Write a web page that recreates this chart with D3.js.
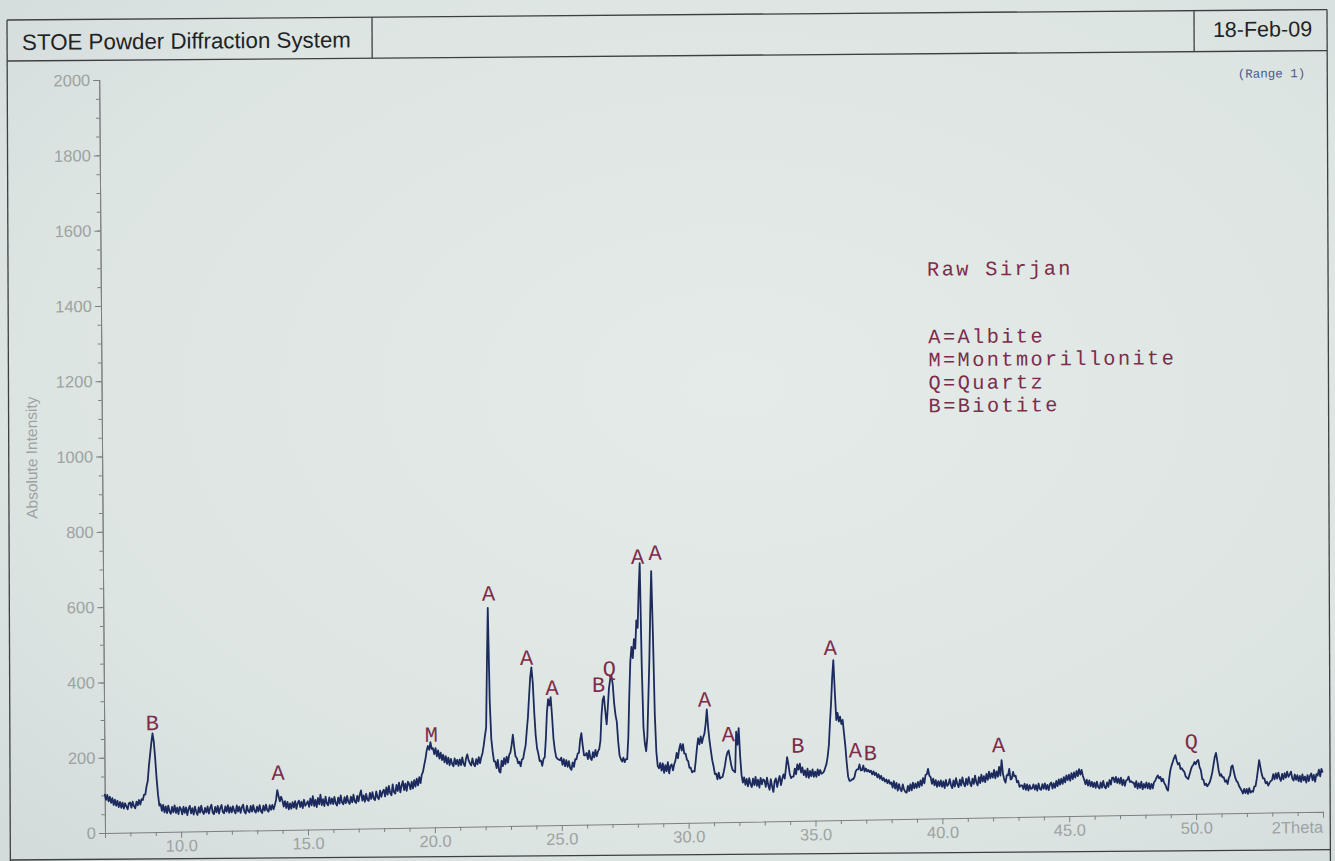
<!DOCTYPE html>
<html>
<head>
<meta charset="utf-8">
<script src="https://cdn.jsdelivr.net/npm/d3@7"></script>
<style>
  html, body { margin: 0; padding: 0; background: #dde5e3; }
  svg { display: block; }
</style>
</head>
<body>
<svg id="chart" width="1335" height="861"></svg>
<script>
// ---- Scan settings (STOE step scan) ----
const scanStart = 7.0;     // first 2Theta of the scan
const scanStep = 0.05;     // step width in degrees 2Theta

// Measured counts, one row per degree 2Theta (20 steps per row)
const counts = [
  /* 7 */ 104, 88, 101, 84, 96, 80, 92, 74, 88, 72, 85, 68, 82, 66, 80, 64, 78, 70, 62, 78,
  /* 8 */ 80, 66, 82, 70, 64, 82, 72, 86, 74, 88, 86, 100, 100, 122, 136, 176, 206, 236, 262, 240,
  /* 9 */ 195, 142, 100, 70, 74, 56, 72, 52, 68, 50, 70, 54, 48, 66, 52, 70, 50, 64, 47, 66,
  /*10 */ 60, 46, 66, 50, 64, 44, 60, 68, 48, 62, 45, 66, 52, 44, 64, 50, 68, 52, 46, 62,
  /*11 */ 50, 66, 47, 62, 70, 49, 45, 64, 50, 67, 46, 61, 69, 50, 47, 65, 51, 68, 48, 63,
  /*12 */ 49, 65, 53, 46, 67, 51, 64, 47, 62, 69, 50, 45, 66, 52, 48, 65, 50, 67, 52, 47,
  /*13 */ 63, 50, 67, 51, 46, 65, 52, 68, 53, 49, 66, 54, 67, 55, 66, 80, 106, 90, 76, 88,
  /*14 */ 78, 62, 76, 58, 74, 54, 70, 56, 73, 59, 76, 55, 71, 77, 60, 74, 57, 79, 63, 68,
  /*15 */ 75, 60, 82, 64, 88, 62, 78, 59, 83, 66, 92, 64, 80, 61, 86, 68, 63, 84, 67, 81,
  /*16 */ 66, 85, 68, 62, 83, 67, 89, 70, 65, 84, 68, 87, 71, 66, 85, 70, 90, 72, 68, 87,
  /*17 */ 72, 90, 101, 74, 88, 71, 92, 76, 73, 94, 78, 96, 79, 75, 98, 82, 77, 100, 83, 96,
  /*18 */ 102, 84, 108, 89, 112, 93, 87, 116, 95, 91, 114, 98, 120, 94, 112, 124, 100, 117, 98, 122,
  /*19 */ 116, 102, 122, 104, 126, 109, 130, 112, 134, 118, 140, 148, 166, 182, 204, 216, 206, 226, 208, 210,
  /*20 */ 194, 210, 188, 204, 182, 198, 178, 192, 172, 188, 168, 184, 164, 181, 167, 161, 182, 166, 178, 162,
  /*21 */ 179, 164, 184, 167, 161, 182, 192, 176, 168, 162, 181, 166, 160, 179, 165, 184, 168, 184, 195, 215,
  /*22 */ 240, 262, 430, 580, 330, 232, 198, 172, 172, 154, 176, 146, 142, 174, 159, 180, 164, 184, 168, 189,
  /*23 */ 195, 215, 242, 210, 184, 180, 166, 170, 158, 176, 178, 197, 213, 252, 288, 342, 393, 420, 380, 300,
  /*24 */ 240, 205, 190, 171, 172, 158, 176, 181, 230, 300, 335, 318, 340, 290, 230, 200, 181, 176, 174, 172,
  /*25 */ 179, 160, 175, 156, 172, 154, 169, 151, 146, 166, 154, 174, 174, 189, 191, 225, 243, 210, 184, 184,
  /*26 */ 190, 174, 196, 176, 171, 192, 178, 198, 181, 194, 200, 222, 290, 330, 340, 300, 265, 310, 360, 384,
  /*27 */ 395, 372, 322, 290, 272, 218, 182, 172, 166, 176, 164, 172, 172, 230, 340, 430, 470, 440, 490, 465,
  /*28 */ 540, 520, 620, 692, 420, 255, 212, 192, 230, 330, 430, 560, 670, 500, 290, 190, 152, 146, 160, 140,
  /*29 */ 159, 134, 154, 138, 162, 132, 152, 156, 140, 156, 166, 186, 172, 196, 210, 192, 209, 184, 184, 168,
  /*30 */ 164, 146, 146, 134, 137, 136, 165, 198, 224, 208, 229, 211, 226, 236, 262, 300, 250, 216, 190, 165,
  /*31 */ 149, 128, 129, 114, 132, 116, 119, 120, 134, 150, 172, 185, 190, 170, 150, 138, 135, 132, 240, 205,
  /*32 */ 249, 175, 124, 104, 118, 98, 114, 94, 116, 100, 92, 114, 97, 119, 95, 111, 90, 116, 99, 112,
  /*33 */ 109, 92, 116, 96, 84, 112, 93, 78, 106, 114, 91, 108, 120, 96, 112, 124, 113, 140, 170, 150,
  /*34 */ 125, 114, 118, 118, 139, 124, 150, 136, 152, 128, 142, 121, 134, 116, 138, 114, 132, 118, 136, 116,
  /*35 */ 130, 116, 136, 120, 134, 124, 126, 130, 140, 150, 170, 200, 260, 312, 380, 425, 340, 266, 285, 262,
  /*36 */ 275, 255, 266, 230, 195, 150, 115, 104, 104, 108, 108, 114, 129, 134, 134, 147, 131, 132, 144, 128,
  /*37 */ 136, 128, 132, 126, 130, 120, 128, 118, 124, 112, 120, 108, 116, 104, 110, 100, 106, 96, 104, 94,
  /*38 */ 98, 84, 101, 81, 96, 76, 93, 80, 74, 92, 78, 72, 70, 88, 74, 92, 76, 96, 81, 94,
  /*39 */ 82, 98, 84, 102, 88, 108, 94, 116, 118, 132, 114, 110, 92, 106, 88, 102, 84, 99, 86, 101,
  /*40 */ 84, 98, 80, 102, 86, 90, 104, 88, 80, 100, 84, 106, 90, 82, 102, 86, 108, 92, 84, 104,
  /*41 */ 88, 108, 92, 84, 104, 90, 112, 94, 86, 108, 92, 114, 96, 110, 94, 116, 100, 122, 104, 118,
  /*42 */ 106, 126, 104, 122, 108, 134, 111, 152, 116, 100, 92, 112, 111, 128, 100, 102, 120, 108, 110, 92,
  /*43 */ 96, 80, 84, 84, 74, 88, 72, 86, 70, 84, 74, 76, 86, 72, 84, 69, 88, 74, 71, 86,
  /*44 */ 74, 88, 72, 84, 70, 86, 90, 74, 88, 76, 94, 80, 98, 84, 100, 86, 104, 90, 108, 96,
  /*45 */ 110, 94, 114, 98, 116, 102, 120, 106, 124, 110, 122, 106, 96, 84, 96, 80, 94, 78, 90, 76,
  /*46 */ 88, 74, 90, 76, 72, 88, 74, 92, 76, 72, 88, 76, 94, 82, 100, 100, 88, 102, 86, 98,
  /*47 */ 84, 100, 80, 94, 78, 92, 94, 102, 88, 90, 86, 86, 74, 90, 70, 84, 72, 88, 68, 82,
  /*48 */ 72, 86, 70, 84, 68, 82, 70, 86, 90, 98, 104, 96, 100, 88, 95, 84, 78, 68, 63, 95,
  /*49 */ 118, 130, 140, 150, 157, 142, 132, 136, 120, 122, 116, 112, 100, 96, 93, 104, 116, 126, 130, 138,
  /*50 */ 132, 140, 143, 124, 116, 92, 90, 76, 80, 73, 78, 84, 95, 110, 130, 150, 161, 140, 115, 100,
  /*51 */ 104, 96, 96, 84, 88, 78, 94, 101, 124, 127, 110, 95, 86, 82, 72, 66, 60, 52, 64, 53,
  /*52 */ 64, 51, 66, 54, 58, 56, 70, 71, 90, 115, 140, 120, 102, 91, 91, 78, 82, 72, 79, 84,
  /*53 */ 86, 102, 88, 104, 90, 106, 92, 84, 102, 88, 104, 92, 108, 94, 100, 108, 90, 84, 100, 86,
  /*54 */ 98, 82, 96, 80, 100, 84, 94, 78, 98, 82, 96, 102, 84, 98, 80, 100, 96, 112, 94, 114,
  /*55 */ 104
];

// Phase markers above the reflections
const markText  = ["B", "A", "M", "A", "A", "A", "B", "Q", "A", "A", "A", "A", "B", "A", "A", "B", "A", "Q"];
const markTheta = [8.90, 13.84, 19.89, 22.19, 23.66, 24.66, 26.49, 26.92, 28.07, 28.76, 30.67, 31.59, 34.33, 35.64, 36.59, 37.18, 42.24, 49.83];
const markLevel = [271, 133, 227, 599, 427, 346, 352, 394, 690, 700, 308, 214, 181, 439, 166, 158, 173, 173];

// Sample name and phase key
const sampleName = "Raw Sirjan";
const phaseKey = ["A=Albite", "M=Montmorillonite", "Q=Quartz", "B=Biotite"];

// Axis settings
const thetaDomain = [7, 55];
const intensityDomain = [0, 2000];
const yMajorTicks = [0, 200, 400, 600, 800, 1000, 1200, 1400, 1600, 1800, 2000];
const yMinorTicks = d3.range(0, 2001, 50);
const xTicks = d3.range(7, 56, 1);
const xLabelled = [10, 15, 20, 25, 30, 35, 40, 45, 50];

const headerTitle = "STOE Powder Diffraction System";
const headerDate = "18-Feb-09";
const rangeTag = "(Range 1)";
const yTitle = "Absolute Intensity";
const xTitle = "2Theta";

// ---- Drawing ----
const svg = d3.select("#chart");
const defs = svg.append("defs");
const grad = defs.append("radialGradient").attr("id", "paper")
  .attr("cx", "55%").attr("cy", "45%").attr("r", "75%");
grad.append("stop").attr("offset", "0%").attr("stop-color", "#e4ebe9");
grad.append("stop").attr("offset", "70%").attr("stop-color", "#dde5e3");
grad.append("stop").attr("offset", "100%").attr("stop-color", "#d3dcdb");
svg.append("rect").attr("width", 1335).attr("height", 861).attr("fill", "url(#paper)");

// Printed frame (page sits slightly tilted)
const frame = svg.append("g").attr("transform", "matrix(1,-0.0079,0.004,1,-0.08,0.055)");
const frameStroke = "#3b4042";
const lines = [
  [7, 20, 1327, 20], [7, 61, 1327, 61], [7, 20, 7, 875], [1327, 20, 1327, 875],
  [372, 20, 372, 61], [1194, 20, 1194, 61], [7, 860, 1327, 860]
];
frame.selectAll("line.frame").data(lines).join("line")
  .attr("class", "frame")
  .attr("x1", d => d[0]).attr("y1", d => d[1]).attr("x2", d => d[2]).attr("y2", d => d[3])
  .attr("stroke", frameStroke).attr("stroke-width", 1.3);

frame.append("text").attr("x", 22).attr("y", 50)
  .attr("font-family", "Liberation Sans, Arial, sans-serif").attr("font-size", 22.3)
  .attr("fill", "#1f2324").text(headerTitle);
frame.append("text").attr("x", 1312).attr("y", 46.5).attr("text-anchor", "end")
  .attr("font-family", "Liberation Sans, Arial, sans-serif").attr("font-size", 21.5)
  .attr("fill", "#1f2324").text(headerDate);
frame.append("text").attr("x", 1305).attr("y", 87.5).attr("text-anchor", "end")
  .attr("font-family", "Liberation Mono, Courier New, monospace").attr("font-size", 12.5)
  .attr("fill", "#4a5a8c").text(rangeTag);

const keyColor = "#7e2c4a";
frame.append("text").attr("x", 926).attr("y", 283)
  .attr("font-family", "Liberation Mono, Courier New, monospace").attr("font-size", 20.3)
  .attr("letter-spacing", 2.4).attr("fill", keyColor).text(sampleName);
frame.selectAll("text.key").data(phaseKey).join("text")
  .attr("class", "key")
  .attr("x", 927).attr("y", (d, i) => 350.5 + i * 23)
  .attr("font-family", "Liberation Mono, Courier New, monospace").attr("font-size", 20.3)
  .attr("letter-spacing", 2.4).attr("fill", keyColor).text(d => d);

// Plot area
const plot = svg.append("g").attr("transform", "matrix(1,-0.0175,0.0077,1,-6.414,1.8375)");
const x = d3.scaleLinear().domain(thetaDomain).range([105, 1323]);
const y = d3.scaleLinear().domain(intensityDomain).range([833, 80]);

const axisGrey = "#7b8080";
const labelGrey = "#9da2a1";
const sansFont = "Liberation Sans, Arial, sans-serif";

// y axis: minor then major ticks
const yMinor = plot.append("g").attr("transform", "translate(105,0)")
  .call(d3.axisLeft(y).tickValues(yMinorTicks).tickSize(3.5).tickFormat(""));
const yMajor = plot.append("g").attr("transform", "translate(105,0)")
  .call(d3.axisLeft(y).tickValues(yMajorTicks).tickSize(6).tickPadding(3).tickFormat(d3.format("d")));

// x axis
const xAxis = plot.append("g").attr("transform", "translate(0,833)")
  .call(d3.axisBottom(x).tickValues(xTicks).tickSize(5).tickPadding(3)
    .tickFormat(d => xLabelled.includes(d) ? d.toFixed(1) : ""));
xAxis.selectAll(".tick line").attr("y2", d => d % 5 === 0 ? 6 : 4);

[yMinor, yMajor, xAxis].forEach(g => {
  g.selectAll("path.domain").attr("stroke", axisGrey).attr("stroke-width", 1);
  g.selectAll(".tick line").attr("stroke", axisGrey).attr("stroke-width", 1);
  g.selectAll(".tick text").attr("fill", labelGrey)
    .attr("font-family", sansFont).attr("font-size", 16.5);
});

plot.append("text").attr("x", x(thetaDomain[1])).attr("y", 833 + 21)
  .attr("text-anchor", "end").attr("font-family", sansFont).attr("font-size", 16.5)
  .attr("fill", labelGrey).text(xTitle);

plot.append("text")
  .attr("transform", `translate(40,${y(1000)}) rotate(-90)`)
  .attr("text-anchor", "middle").attr("font-family", sansFont).attr("font-size", 15.5)
  .attr("fill", labelGrey).text(yTitle);

// diffraction trace
const line = d3.line()
  .x((d, i) => x(scanStart + i * scanStep))
  .y(d => y(d));
plot.append("path").datum(counts)
  .attr("d", line)
  .attr("fill", "none")
  .attr("stroke", "#1c2a5e")
  .attr("stroke-width", 1.8)
  .attr("stroke-linejoin", "round");

// phase markers
plot.selectAll("text.mark").data(markText).join("text")
  .attr("class", "mark")
  .attr("x", (d, i) => x(markTheta[i]))
  .attr("y", (d, i) => y(markLevel[i]))
  .attr("text-anchor", "middle")
  .attr("font-family", "Liberation Mono, Courier New, monospace")
  .attr("font-size", 22)
  .attr("fill", keyColor)
  .text(d => d);
</script>
</body>
</html>
